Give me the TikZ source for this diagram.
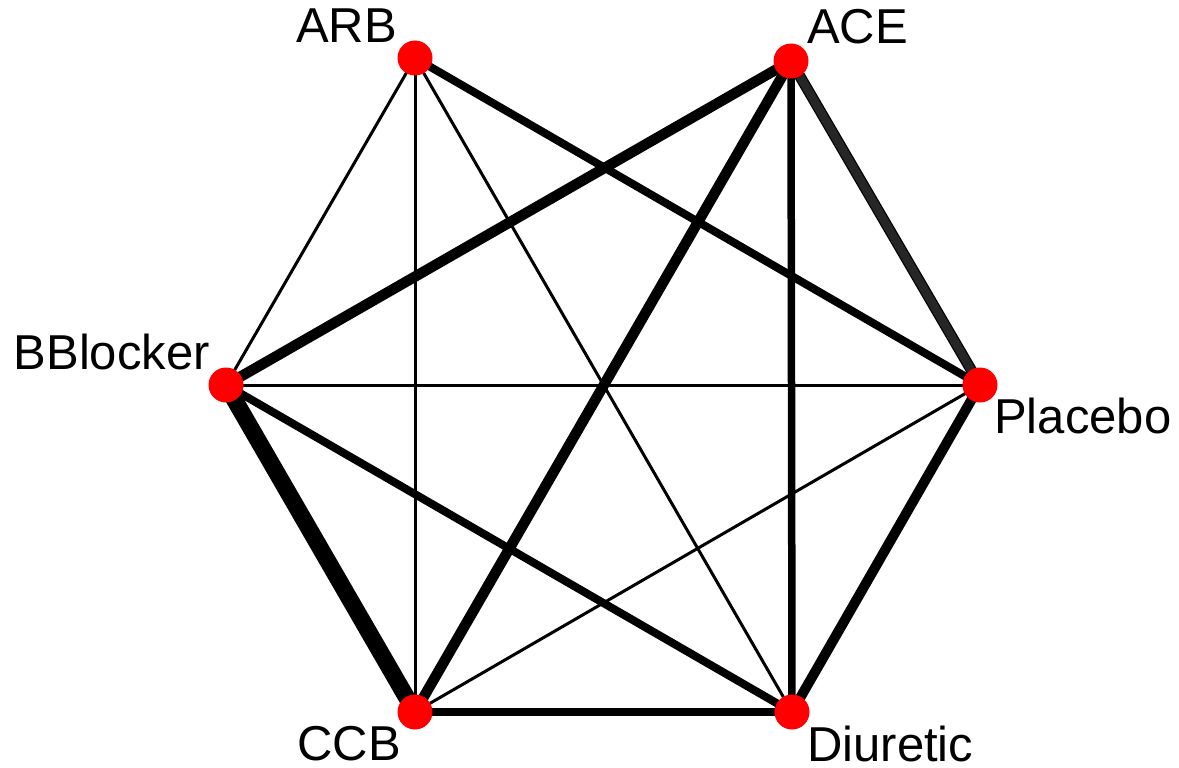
\documentclass[tikz,border=0pt]{standalone}
\usepackage{fontspec}
\setmainfont{Liberation Sans}
\begin{document}
\begin{tikzpicture}[x=1pt,y=-1pt,
  vtx/.style={circle,fill=red,draw=none,minimum size=35pt,inner sep=0pt},
  lbl/.style={inner sep=0pt,font=\fontsize{49}{58}\selectfont},
  edge/.style={draw=black,line cap=butt},
  thin/.style={edge,line width=3pt}]
\useasboundingbox (0,0) rectangle (1179,768);
% vertex coordinates
\coordinate (ARB) at (415,58);
\coordinate (ACE) at (791,61);
\coordinate (BB) at (226,385);
\coordinate (PL) at (980,385);
\coordinate (CCB) at (415,712);
\coordinate (DI) at (792,712);
% edges
\draw[thin] (ARB) -- (BB);
\draw[thin] (ARB) -- (CCB);
\draw[thin] (ARB) -- (DI);
\draw[thin] (BB) -- (PL);
\draw[thin] (CCB) -- (PL);
\draw[edge,line width=8pt] (ARB) -- (PL);
\draw[edge,line width=10.5pt] (ACE) -- (BB);
\draw[edge,line width=10.5pt] (ACE) -- (CCB);
\draw[edge,line width=7.5pt] (ACE) -- (DI);
\draw[edge,line width=11pt] (ACE) -- (PL);
\draw[edge,draw={rgb,255:red,38;green,38;blue,38},line width=8.5pt] (ACE) -- (PL);
\draw[edge,line width=17pt] (BB) -- (CCB);
\draw[edge,line width=8pt] (BB) -- (DI);
\draw[edge,line width=8.5pt] (CCB) -- (DI);
\draw[edge,line width=10pt] (PL) -- (DI);
% vertices
\node[vtx] (nARB) at (ARB) {};
\node[vtx] (nACE) at (ACE) {};
\node[vtx] (nBB) at (BB) {};
\node[vtx] (nPL) at (PL) {};
\node[vtx] (nCCB) at (CCB) {};
\node[vtx] (nDI) at (DI) {};
% labels
\node[lbl,anchor=base east] (tARB) at (397,43) {ARB};
\node[lbl,anchor=base west] (tACE) at (807,44) {ACE};
\node[lbl,anchor=base east] (tBB) at (210,369) {BBlocker};
\node[lbl,anchor=base west] (tPL) at (994,433) {Placebo};
\node[lbl,anchor=base east] (tCCB) at (401,760) {CCB};
\node[lbl,anchor=base west] (tDI) at (807,761) {Diuretic};
\end{tikzpicture}
\end{document}
